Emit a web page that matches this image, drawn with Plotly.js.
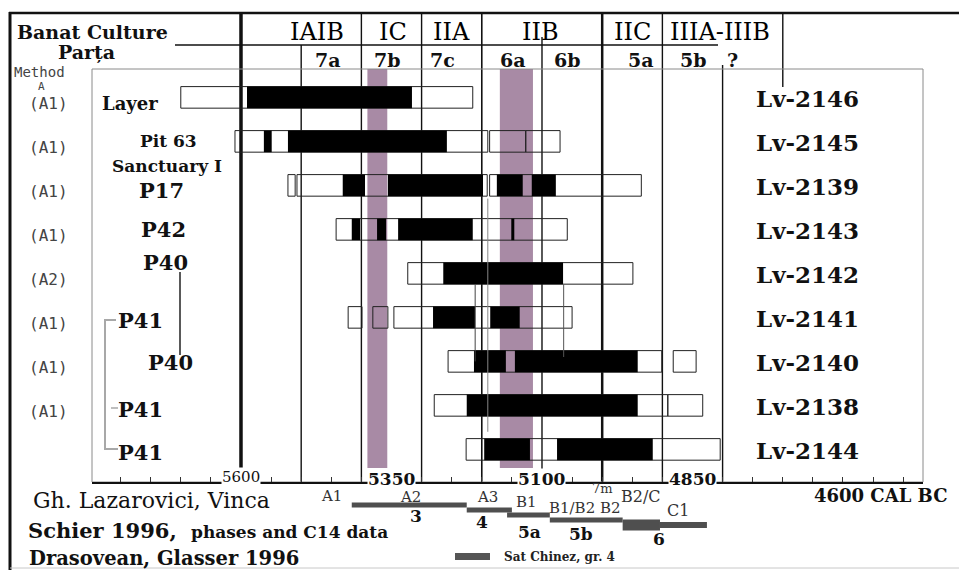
<!DOCTYPE html>
<html><head><meta charset="utf-8">
<script src="https://cdn.plot.ly/plotly-3.0.1.min.js"></script>
<style>html,body{margin:0;padding:0;background:#fff}#chart{width:959px;height:570px}</style>
</head><body><div id="chart"></div>
<script>
// ================= DATA =================
const samples = ["Lv-2146","Lv-2145","Lv-2139","Lv-2143","Lv-2142","Lv-2141","Lv-2140","Lv-2138","Lv-2144"];
const contexts = ["Layer","Pit 63","P17","P42","P40","P41","P40","P41","P41"];
const contextGroup = "Sanctuary I";
const methods = ["(A1)","(A1)","(A1)","(A1)","(A2)","(A1)","(A1)","(A1)"];

// calibrated ranges (outline boxes), years cal BC
const rangeSample = ["Lv-2146","Lv-2145","Lv-2145","Lv-2145","Lv-2139","Lv-2139","Lv-2139","Lv-2143","Lv-2142","Lv-2141","Lv-2141","Lv-2141","Lv-2140","Lv-2140","Lv-2138","Lv-2138","Lv-2144"];
const rangeFrom   = [5700,5610,5187,5127,5522,5507,5187,5442,5323,5422,5381,5346,5256,4882,5279,4891,5226];
const rangeTo     = [5215,5190,5127,5070,5510,5191,4935,5058,4949,5399,5356,5050,4901,4844,4891,4833,4804];

// calibrated ranges (black bars), years cal BC
const coreSample = ["Lv-2146","Lv-2145","Lv-2145","Lv-2139","Lv-2139","Lv-2139","Lv-2139","Lv-2143","Lv-2143","Lv-2143","Lv-2143","Lv-2142","Lv-2141","Lv-2141","Lv-2140","Lv-2140","Lv-2138","Lv-2144","Lv-2144"];
const coreFrom   = [5590,5562,5522,5431,5356,5175,5117,5416,5374,5339,5151,5264,5281,5186,5213,5145,5225,5196,5075];
const coreTo     = [5316,5549,5258,5394,5198,5132,5077,5402,5359,5215,5146,5065,5211,5137,5160,4941,4941,5120,4916];

// highlighted (purple) intervals, years cal BC
const bandFrom = [5390,5170];
const bandTo   = [5357,5115];

// chronology grid and axis labels
const gridYears = [5600,5500,5400,5300,5200,5100,5000,4900,4800,4700];
const tickYears = [5600,5350,5100,4850];
const tickLabels = ["5600","5350","5100","4850"];
const lastTickLabel = "4600 CAL BC";

// phase systems
const banatPhases = ["IAIB","IC","IIA","IIB","IIC","IIIA-IIIB"];
const partaPhases = ["7a","7b","7c","6a","6b","5a","5b","?"];
const lazPhases = ["A1","A2","A3","B1","B1/B2","B2","7m","B2/C","C1"];
const schierPhase = ["3","4","5a","5b","6","6"];
const schierFrom  = [5416,5225,5158,5087,4966,4904];
const schierTo    = [5225,5150,5087,4966,4904,4826];
const schierLabels = ["3","4","5a","5b","6"];

// ================= LAYOUT HELPERS =================
const X0 = 92, X1 = 923, YT = 69, YB = 482, H = 570;
const PX = p => (p - X0) / (X1 - X0);
const PY = p => (H - p) / (H - YT);
const yMainBottom = PY(YB);
const SERIF = "DejaVu Serif, serif";
const MONO = "DejaVu Sans Mono, monospace";

// ================= TRACES =================
const traces = [
  {type:'bar', orientation:'h', y:rangeSample, base:rangeFrom,
   x:rangeFrom.map((f,i)=>rangeTo[i]-f), width:0.49,
   marker:{color:'rgba(255,255,255,0)', line:{color:'#222', width:1}},
   hoverinfo:'skip', xaxis:'x', yaxis:'y'},
  {type:'bar', orientation:'h', y:coreSample, base:coreFrom,
   x:coreFrom.map((f,i)=>coreTo[i]-f), width:0.49,
   marker:{color:'#000', line:{width:0}},
   hoverinfo:'skip', xaxis:'x', yaxis:'y'},
  {type:'bar', orientation:'h', y:schierPhase, base:schierFrom,
   x:schierFrom.map((f,i)=>schierTo[i]-f), width:[1,1,1,1,2.2,1.2],
   marker:{color:'#4f4f4f', line:{width:0}},
   hoverinfo:'skip', xaxis:'x', yaxis:'y2'}
];

// ================= SHAPES =================
const shapes = [];
bandFrom.forEach((f,i)=>shapes.push({type:'rect', xref:'x', yref:'paper', x0:f, x1:bandTo[i],
  y0:PY(468), y1:1, fillcolor:'#a88aa5', line:{width:0}, layer:'below'}));
const gridTop = [13,45,13,13,13,37,13,13,65,13];
const gridBot = [482,482,482,482,482,482,482,482,482,87];
const gridW = [3.5,1.4,1.4,1.4,1.6,1.4,2.5,1.4,1.4,1.4];
gridYears.forEach((g,i)=>shapes.push({type:'line', xref:'x', yref:'paper', x0:g, x1:g,
  y0:PY(gridBot[i]), y1:PY(gridTop[i]), line:{color:'#111', width:gridW[i]}, layer:'below'}));
// inner frame
shapes.push({type:'rect', xref:'paper', yref:'paper', x0:0, x1:1, y0:yMainBottom, y1:1,
  line:{color:'#8a8a8a', width:1}, layer:'below'});
// header rule
shapes.push({type:'line', xref:'paper', yref:'paper', x0:PX(175), x1:PX(718), y0:PY(45), y1:PY(45),
  line:{color:'#111', width:1.4}});
// outer frame
shapes.push({type:'line', xref:'paper', yref:'paper', x0:PX(10), x1:PX(10), y0:0, y1:PY(12),
  line:{color:'#111', width:3}});
shapes.push({type:'line', xref:'paper', yref:'paper', x0:PX(9), x1:PX(959), y0:PY(13), y1:PY(13),
  line:{color:'#111', width:2.5}});
shapes.push({type:'line', xref:'paper', yref:'paper', x0:PX(10), x1:PX(959), y0:PY(568), y1:PY(568),
  line:{color:'#c8c8c8', width:1}});
// context connectors
shapes.push({type:'line', xref:'paper', yref:'paper', x0:PX(180), x1:PX(180), y0:PY(272), y1:PY(355),
  line:{color:'#222', width:1.5}});
shapes.push({type:'path', xref:'paper', yref:'paper',
  path:`M ${PX(116)} ${PY(320)} L ${PX(105)} ${PY(320)} L ${PX(105)} ${PY(449)} L ${PX(118)} ${PY(449)}`,
  line:{color:'#a8a8a8', width:2}});
shapes.push({type:'line', xref:'paper', yref:'paper', x0:PX(111), x1:PX(118), y0:PY(408), y1:PY(408),
  line:{color:'#a8a8a8', width:1.5}});
// thin links between samples
shapes.push({type:'line', xref:'x', yref:'y', x0:5190, x1:5190, y0:2.3, y1:7.6, line:{color:'#888', width:1}});
shapes.push({type:'line', xref:'x', yref:'y', x0:5211, x1:5211, y0:4.25, y1:6.0, line:{color:'#444', width:1}});
shapes.push({type:'line', xref:'x', yref:'y', x0:5064, x1:5064, y0:4.25, y1:5.9, line:{color:'#555', width:1}});
// legend key
shapes.push({type:'rect', xref:'paper', yref:'paper', x0:PX(455), x1:PX(490), y0:PY(560), y1:PY(553),
  fillcolor:'#555', line:{width:0}});

// ================= ANNOTATIONS =================
const A = [];
function txt(text, x, y, size, o) {
  o = o || {};
  A.push(Object.assign({text:text, x:x, y:y, xref:'paper', yref:'paper', showarrow:false,
    xanchor:'center', yanchor:'middle', borderpad:0,
    font:{family:o.family||SERIF, size:size, color:o.color||'#111'}}, o.extra||{}));
}
// header
txt('<b>Banat Culture</b>', PX(92), PY(32), 19);
txt('<b>Parța</b>', PX(86), PY(52), 19);
const banatX = [5474,5348,5250,5102,4950,4804];
banatPhases.forEach((p,i)=>txt(p, banatX[i], PY(32), 24, {color:'#000', extra:{xref:'x'}}));
const partaX = [5455,5356,5266,5148,5058,4936,4848,4784];
partaPhases.forEach((p,i)=>txt('<b>'+p+'</b>', partaX[i], PY(60), 19, {extra:{xref:'x'}}));
// method column
txt('Method', PX(13), PY(72), 14, {family:MONO, color:'#444', extra:{xanchor:'left'}});
txt('A', PX(41), PY(87), 11, {family:MONO, color:'#444'});
methods.forEach((m,i)=>txt(m, PX(48), i, 16, {family:MONO, color:'#444', extra:{yref:'y', yshift:-6}}));
// context labels
const ctxPos = [[130,103,18],[168,141,17],[161,190,21],[163,229,21],[165,262,21],[140,320,21],[170,362,21],[140,409,21],[140,452,21]];
contexts.forEach((c,i)=>txt('<b>'+c+'</b>', PX(ctxPos[i][0]), PY(ctxPos[i][1]), ctxPos[i][2]));
txt('<b>'+contextGroup+'</b>', PX(167), PY(166), 17);
// sample codes
samples.forEach((s,i)=>txt('<b>'+s+'</b>', PX(755), i, 23, {extra:{yref:'y', xanchor:'left', yshift:-1}}));
// axis labels
tickYears.forEach((t,i)=>txt(i===0 ? tickLabels[i] : '<b>'+tickLabels[i]+'</b>', t, PY(i===0 ? 477 : 479), i===0 ? 15 : 17,
  {extra:{xref:'x', bgcolor:'#fff'}}));
txt('<b>'+lastTickLabel+'</b>', PX(813), PY(495), 18, {extra:{xanchor:'left'}});
// Lazarovici phases
const lazX = [5449,5319,5190,5125,5050,4986,4999,4936,4874];
const lazY = [496,497,497,502,508,508,488,496,510];
const lazS = [15,15,15,15,15,15,13,16,16];
lazPhases.forEach((p,i)=>txt(p, lazX[i], PY(lazY[i]), lazS[i], {color:'#333', extra:{xref:'x'}}));
// Schier phases
const schX = [5310,5200,5120,5035,4905];
const schY = [516,522,532,534,539];
schierLabels.forEach((p,i)=>txt('<b>'+p+'</b>', schX[i], PY(schY[i]), 17, {extra:{xref:'x'}}));
// sources
txt('Gh. Lazarovici, Vinca', PX(32), PY(500), 22, {extra:{xanchor:'left'}});
txt('<b>Schier 1996,</b>', PX(27), PY(530), 21, {extra:{xanchor:'left'}});
txt('<b>phases and C14 data</b>', PX(190), PY(532), 17, {extra:{xanchor:'left'}});
txt('<b>Drasovean, Glasser 1996</b>', PX(28), PY(558), 19.5, {extra:{xanchor:'left'}});
txt('<b>Sat Chinez, gr. 4</b>', PX(503), PY(557), 12, {color:'#222', extra:{xanchor:'left'}});

const layout = {
  width:959, height:570, margin:{l:X0, r:959-X1, t:YT, b:0, pad:0},
  paper_bgcolor:'#fff', plot_bgcolor:'rgba(0,0,0,0)', showlegend:false, barmode:'overlay',
  xaxis:{range:[5847.5,4467.1], domain:[0,1], anchor:'y', showgrid:false, zeroline:false,
    showline:true, linecolor:'#111', linewidth:1.5, ticks:'inside', ticklen:5, tickwidth:1,
    tickcolor:'#333', tickmode:'linear', tick0:0, dtick:50, showticklabels:false, fixedrange:true},
  yaxis:{type:'category', categoryorder:'array', categoryarray:samples, range:[8.741,-0.645],
    domain:[yMainBottom,1], visible:false, fixedrange:true},
  yaxis2:{type:'category', categoryorder:'array', categoryarray:schierLabels, range:[13,-4.6],
    domain:[0,yMainBottom], anchor:'x', visible:false, fixedrange:true},
  shapes:shapes, annotations:A
};
Plotly.newPlot('chart', traces, layout, {staticPlot:true, displayModeBar:false});
</script></body></html>
